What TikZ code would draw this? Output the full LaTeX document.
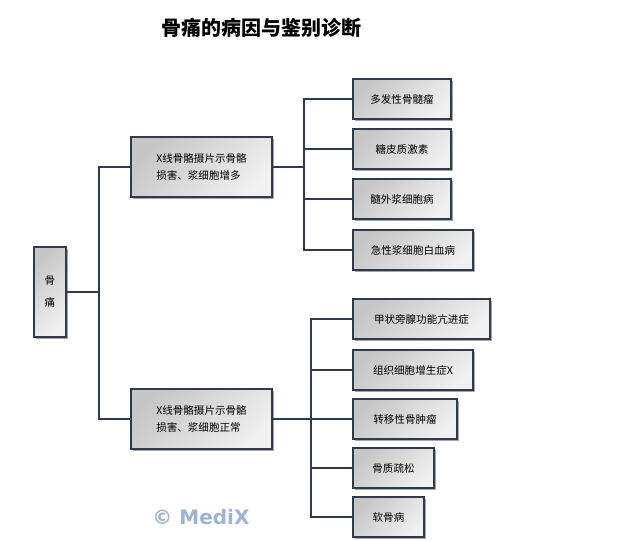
\documentclass[tikz,border=0pt]{standalone}
\usepackage{fontspec}
\setmainfont{Noto Sans CJK SC}
\newfontfamily\markfont{DejaVu Sans}
\usetikzlibrary{shadows}
\definecolor{linecol}{HTML}{2E3B4A}
\definecolor{boxdark}{HTML}{C6C6C6}
\definecolor{boxlight}{HTML}{F0F0F0}
\definecolor{markcol}{HTML}{9DB3D6}

\begin{document}
\begin{tikzpicture}[x=0.75pt,y=-0.75pt,
  box/.style={draw=linecol,line width=1pt,top color=boxdark,bottom color=boxlight,
    shading angle=45,drop shadow={shadow xshift=1.5pt,shadow yshift=-1.5pt,opacity=0.35,fill=black},
    inner sep=0pt,minimum height=30pt,font=\fontsize{7.9}{12.9}\selectfont},
  link/.style={draw=linecol,line width=1pt}]
\useasboundingbox (0,0) rectangle (642,541);

\coordinate (J0) at (99,292);
\coordinate (J1) at (304,167);
\coordinate (J2) at (311,419);

\node[font=\fontsize{15}{18}\selectfont\bfseries] (title) at (261,28) {骨痛的病因与鉴别诊断};

\node[box,minimum width=24pt,minimum height=67.5pt,align=center,
  font=\fontsize{7.9}{16.5}\selectfont] (root) at (50,292) {骨\\痛};
\node[box,minimum width=105.75pt,minimum height=45pt,align=left] (up) at (201.5,167)
  {X线骨骼摄片示骨骼\\损害、浆细胞增多};
\node[box,minimum width=105.75pt,minimum height=45pt,align=left] (down) at (201.5,419)
  {X线骨骼摄片示骨骼\\损害、浆细胞正常};

\node[box,minimum width=73.5pt] (mm) at (402,99) {多发性骨髓瘤};
\node[box,minimum width=73.5pt] (gc) at (402,149) {糖皮质激素};
\node[box,minimum width=73.5pt] (ep) at (402,199) {髓外浆细胞病};
\node[box,minimum width=90pt] (pl) at (413,250) {急性浆细胞白血病};

\node[box,minimum width=102.75pt] (hp) at (421.5,319) {甲状旁腺功能亢进症};
\node[box,minimum width=90pt] (hx) at (413,370) {组织细胞增生症X};
\node[box,minimum width=78pt] (mt) at (405,419) {转移性骨肿瘤};
\node[box,minimum width=60.75pt] (op) at (393.5,468) {骨质疏松};
\node[box,minimum width=53.25pt] (om) at (388.5,517) {软骨病};

\draw[link] (root) -- (J0);
\draw[link] (J0) |- (up);
\draw[link] (J0) |- (down);

\draw[link] (up) -- (J1);
\foreach \n in {mm,gc,ep,pl}
  \draw[link] (J1) |- (\n);

\draw[link] (down) -- (J2);
\foreach \n in {hp,hx,mt,op,om}
  \draw[link] (J2) |- (\n);

\node[font=\markfont\bfseries\fontsize{15}{18}\selectfont,text=markcol] (mark) at (201,517) {© MediX};
\end{tikzpicture}
\end{document}
